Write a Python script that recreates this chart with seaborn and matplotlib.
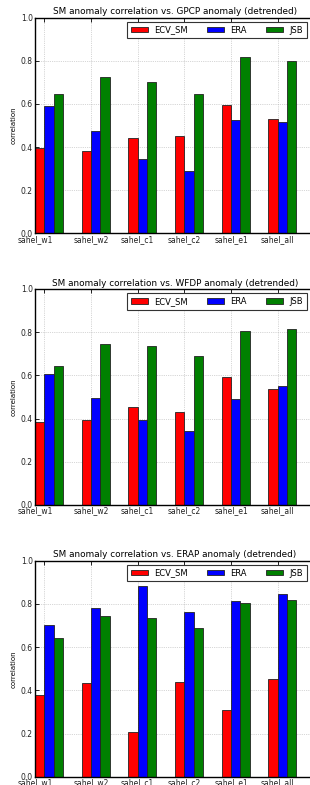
import numpy as np
import pandas as pd
import matplotlib
matplotlib.use("Agg")
import matplotlib.pyplot as plt
from matplotlib.transforms import ScaledTranslation
import seaborn as sns

regions = ["sahel_w1", "sahel_w2", "sahel_c1", "sahel_c2", "sahel_e1", "sahel_all"]
datasets = ["ECV_SM", "ERA", "JSB"]
colors = ["#ff0000", "#0000ff", "#008000"]
yticks = [0.0, 0.2, 0.4, 0.6, 0.8, 1.0]

titles = [
    "SM anomaly correlation vs. GPCP anomaly (detrended)",
    "SM anomaly correlation vs. WFDP anomaly (detrended)",
    "SM anomaly correlation vs. ERAP anomaly (detrended)",
]

gpcp_ecv = [0.397, 0.382, 0.442, 0.451, 0.594, 0.529]
gpcp_era = [0.590, 0.473, 0.345, 0.289, 0.527, 0.518]
gpcp_jsb = [0.645, 0.723, 0.700, 0.648, 0.818, 0.798]

wfdp_ecv = [0.386, 0.392, 0.455, 0.429, 0.594, 0.535]
wfdp_era = [0.605, 0.497, 0.392, 0.343, 0.489, 0.551]
wfdp_jsb = [0.642, 0.744, 0.735, 0.688, 0.806, 0.816]

erap_ecv = [0.377, 0.432, 0.208, 0.440, 0.309, 0.452]
erap_era = [0.701, 0.779, 0.881, 0.761, 0.815, 0.844]
erap_jsb = [0.644, 0.745, 0.736, 0.688, 0.806, 0.816]

panels = [
    (gpcp_ecv, gpcp_era, gpcp_jsb),
    (wfdp_ecv, wfdp_era, wfdp_jsb),
    (erap_ecv, erap_era, erap_jsb),
]

plt.rcParams.update({
    "font.family": ["DejaVu Sans"],
    "xtick.direction": "in",
    "ytick.direction": "in",
    "xtick.top": True,
    "ytick.right": True,
    "axes.edgecolor": "black",
    "axes.linewidth": 1.0,
})

fig = plt.figure(figsize=(3.10, 7.85), dpi=100)

W, H = 310.0, 785.0
ax_left = 35.0
ax_right = 315.0
panel_px = [(17.7, 233.3), (289.0, 505.0), (560.7, 776.7)]

for k, ((ecv, era, jsb), (top, bot)) in enumerate(zip(panels, panel_px)):
    ax = fig.add_axes([ax_left / W, 1 - bot / H, (ax_right - ax_left) / W, (bot - top) / H])
    df = pd.DataFrame({
        "region": regions * 3,
        "dataset": [d for d in datasets for _ in regions],
        "corr": list(ecv) + list(era) + list(jsb),
    })
    sns.barplot(data=df, x="region", y="corr", hue="dataset", order=regions,
                hue_order=datasets, palette=colors, width=0.6, saturation=1,
                edgecolor="#222222", linewidth=0.6, ax=ax, errorbar=None, zorder=2)
    ax.set_xlim(-0.3, 5.7)
    ax.set_ylim(0, 1.0)
    ax.set_yticks(yticks)
    ax.set_yticklabels([f"{v:.1f}" for v in yticks], fontsize=5.5, color="#222222")
    ax.set_xticks(np.arange(len(regions)) - 0.1)
    ax.set_xticklabels(regions, fontsize=5.5, color="#222222")
    ax.tick_params(axis="both", length=3, width=0.6, pad=1.5)
    ax.tick_params(axis="x", pad=1.0)
    lbl0 = ax.get_xticklabels()[0]
    lbl0.set_transform(lbl0.get_transform() + ScaledTranslation(-9 / 100, 0, fig.dpi_scale_trans))
    ax.set_xlabel("")
    ax.set_ylabel("correlation", fontsize=5, labelpad=3)
    ax.set_title(titles[k], fontsize=6.4, pad=2.5)
    ax.grid(True, linestyle=":", color="#b0b0b0", linewidth=0.5, zorder=0)
    ax.set_axisbelow(True)
    for s in ax.spines.values():
        s.set_zorder(5)
    handles, labels = ax.get_legend_handles_labels()
    if ax.get_legend() is not None:
        ax.get_legend().remove()
    leg = ax.legend(handles, labels, ncol=3, loc="upper right",
                    bbox_to_anchor=(0.971, 0.981), borderaxespad=0,
                    fontsize=6.0, frameon=True, fancybox=False,
                    handlelength=2.0, handleheight=0.6, columnspacing=2.3,
                    handletextpad=0.8, borderpad=0.45)
    leg.get_frame().set_edgecolor("#333333")
    leg.get_frame().set_linewidth(0.8)
    leg.get_frame().set_alpha(1)

fig.savefig("out.png", dpi=100)
